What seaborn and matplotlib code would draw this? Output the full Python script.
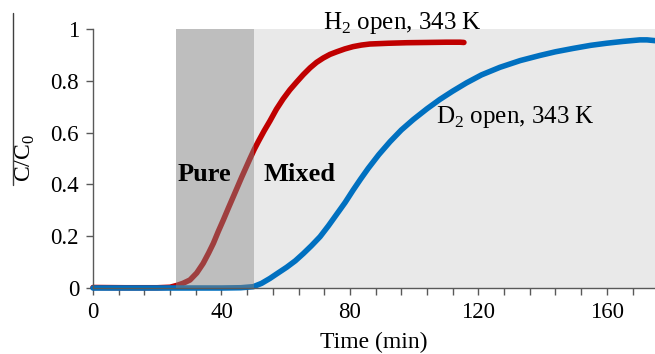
import numpy as np
import pandas as pd
import matplotlib
matplotlib.use("Agg")
import matplotlib.pyplot as plt
from matplotlib.lines import Line2D
from matplotlib.ticker import MultipleLocator
import seaborn as sns

# Breakthrough curves
time_h2 = [0, 10, 20, 24, 26.1, 28, 30.2, 32.3, 34.3, 36, 37.5, 39, 40.6, 42.2, 43.7,
           46.3, 48.9, 50.2, 51.5, 53.3, 55.1, 57.1, 59.2, 61.3, 63.4, 65.5, 67.6,
           69.6, 71.7, 73.8, 75.9, 78.4, 81, 83.6, 86.2, 92, 97.7, 104, 110, 114.3, 115.5]
c_h2 = [0.002, 0.001, 0.001, 0.003, 0.01, 0.018, 0.031, 0.058, 0.095, 0.135, 0.173,
        0.218, 0.263, 0.31, 0.353, 0.428, 0.5, 0.535, 0.566, 0.607, 0.645, 0.69, 0.73,
        0.765, 0.795, 0.824, 0.85, 0.871, 0.888, 0.902, 0.912, 0.923, 0.932, 0.938,
        0.942, 0.945, 0.947, 0.948, 0.949, 0.949, 0.948]

time_d2 = [0, 20, 40, 46, 49.9, 52.5, 55.1, 57.5, 60.3, 63, 65.5, 68, 70.7, 73.3, 75.9,
           78.5, 81, 83.3, 85.7, 89, 92.5, 96, 99.7, 104, 108, 112, 116.3, 121, 126.7,
           133, 139.2, 144, 149.5, 155, 159.9, 165, 170.3, 172.5, 175]
c_d2 = [0, 0, 0, 0.001, 0.005, 0.018, 0.037, 0.057, 0.08, 0.105, 0.133, 0.163, 0.198,
        0.24, 0.285, 0.33, 0.378, 0.42, 0.462, 0.515, 0.565, 0.61, 0.65, 0.692, 0.728,
        0.76, 0.792, 0.823, 0.852, 0.878, 0.898, 0.912, 0.925, 0.937, 0.945, 0.952,
        0.958, 0.958, 0.955]

pure_span = (25.8, 50.2)
mixed_span = (50.2, 175)

df_h2 = pd.DataFrame({"t": time_h2, "c": c_h2})
df_d2 = pd.DataFrame({"t": time_d2, "c": c_d2})

sns.set_theme(style="ticks")
plt.rcParams["font.family"] = ["Liberation Serif", "DejaVu Serif"]
plt.rcParams["mathtext.fontset"] = "custom"
plt.rcParams["mathtext.rm"] = "Liberation Serif"
plt.rcParams["text.color"] = "black"
plt.rcParams["axes.labelcolor"] = "black"

fig = plt.figure(figsize=(6.55, 3.54), dpi=100)
ax = fig.add_axes([93 / 655, 1 - 288 / 354, 1 - 93 / 655, (288 - 29) / 354])

ax.axvspan(*mixed_span, ymin=0, ymax=1.0, color="#E9E9E9", lw=0, zorder=0)

sns.lineplot(data=df_h2, x="t", y="c", ax=ax, color="#C00000", lw=4,
             sort=False, clip_on=False, zorder=2)
sns.lineplot(data=df_d2, x="t", y="c", ax=ax, color="#0070C0", lw=4,
             sort=False, clip_on=False, zorder=3)

ax.axvspan(*pure_span, ymin=0, ymax=1.0, color="#7F7F7F", alpha=0.5, lw=0, zorder=4)

ax.set_xlim(0, 175)
ax.set_ylim(0, 1)
ax.xaxis.set_major_locator(MultipleLocator(40))
ax.xaxis.set_minor_locator(MultipleLocator(8))
ax.set_yticks([0, 0.2, 0.4, 0.6, 0.8, 1.0])
ax.set_yticklabels(["0", "0.2", "0.4", "0.6", "0.8", "1"])

for s in ["top", "right"]:
    ax.spines[s].set_visible(False)
for s in ["left", "bottom"]:
    ax.spines[s].set_color("#595959")
    ax.spines[s].set_linewidth(1.0)
    ax.spines[s].set_zorder(5)
ax.tick_params(axis="both", which="major", length=5, width=1, color="#595959",
               labelsize=16.5, labelcolor="black", pad=5)
ax.tick_params(axis="x", which="minor", length=5, width=1, color="#595959")

ax.set_xlabel("")
ax.set_ylabel("")
fig.text((93 + 655) / 2 / 655, 1 / 354, "Time (min)", fontsize=17,
         ha="center", va="bottom")

fig.text(25 / 655, 1 - 158 / 354, "C/C$_\\mathrm{0}$", rotation=90, fontsize=17,
         ha="center", va="center")
fig.add_artist(Line2D([13 / 655, 13 / 655], [1 - 13 / 354, 1 - 185 / 354],
                      color="#404040", lw=1))

ax.text(71.6, 1.025, "H$_\\mathrm{2}$ open, 343 K", fontsize=18, ha="left", va="center",
        clip_on=False)
ax.text(106.8, 0.66, "D$_\\mathrm{2}$ open, 343 K", fontsize=18, ha="left", va="center")
ax.text(26.3, 0.44, "Pure", fontsize=19, fontweight="bold", ha="left", va="center",
        zorder=6)
ax.text(53, 0.44, "Mixed", fontsize=19, fontweight="bold", ha="left", va="center",
        zorder=6)

fig.savefig("out.png", dpi=100)
